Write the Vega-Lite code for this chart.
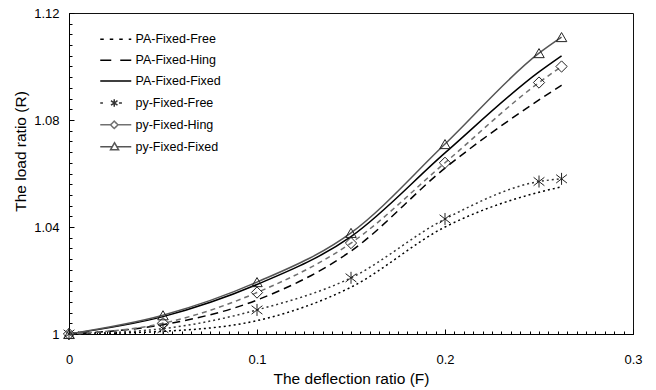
{
  "$schema": "https://vega.github.io/schema/vega-lite/v6.json",
  "width": 564,
  "height": 321,
  "autosize": {"type": "none"},
  "padding": {"left": 69, "top": 13, "right": 23, "bottom": 56},
  "background": "white",
  "config": {
    "font": "Liberation Sans",
    "view": {"stroke": "#111", "strokeWidth": 1},
    "axis": {"grid": false, "domainColor": "#000", "tickColor": "#000", "labelColor": "#000", "titleColor": "#000", "labelFont": "Liberation Sans", "titleFont": "Liberation Sans", "titleFontWeight": "normal"}
  },
  "data": {
    "values": [
      {"series": "PA-Fixed-Free", "F": 0, "R": 1},
      {"series": "PA-Fixed-Free", "F": 0.05, "R": 1.001},
      {"series": "PA-Fixed-Free", "F": 0.1, "R": 1.005},
      {"series": "PA-Fixed-Free", "F": 0.15, "R": 1.0175},
      {"series": "PA-Fixed-Free", "F": 0.2, "R": 1.04},
      {"series": "PA-Fixed-Free", "F": 0.25, "R": 1.053},
      {"series": "PA-Fixed-Free", "F": 0.262, "R": 1.055},
      {"series": "PA-Fixed-Hing", "F": 0, "R": 1},
      {"series": "PA-Fixed-Hing", "F": 0.05, "R": 1.0035},
      {"series": "PA-Fixed-Hing", "F": 0.1, "R": 1.0127},
      {"series": "PA-Fixed-Hing", "F": 0.15, "R": 1.031},
      {"series": "PA-Fixed-Hing", "F": 0.2, "R": 1.062},
      {"series": "PA-Fixed-Hing", "F": 0.25, "R": 1.0875},
      {"series": "PA-Fixed-Hing", "F": 0.262, "R": 1.093},
      {"series": "PA-Fixed-Fixed", "F": 0, "R": 1},
      {"series": "PA-Fixed-Fixed", "F": 0.05, "R": 1.0065},
      {"series": "PA-Fixed-Fixed", "F": 0.1, "R": 1.0185},
      {"series": "PA-Fixed-Fixed", "F": 0.15, "R": 1.0364},
      {"series": "PA-Fixed-Fixed", "F": 0.2, "R": 1.0677},
      {"series": "PA-Fixed-Fixed", "F": 0.25, "R": 1.098},
      {"series": "PA-Fixed-Fixed", "F": 0.262, "R": 1.104},
      {"series": "py-Fixed-Free", "F": 0, "R": 1},
      {"series": "py-Fixed-Free", "F": 0.05, "R": 1.002},
      {"series": "py-Fixed-Free", "F": 0.1, "R": 1.009},
      {"series": "py-Fixed-Free", "F": 0.15, "R": 1.021},
      {"series": "py-Fixed-Free", "F": 0.2, "R": 1.043},
      {"series": "py-Fixed-Free", "F": 0.25, "R": 1.057},
      {"series": "py-Fixed-Free", "F": 0.262, "R": 1.058},
      {"series": "py-Fixed-Hing", "F": 0, "R": 1},
      {"series": "py-Fixed-Hing", "F": 0.05, "R": 1.004},
      {"series": "py-Fixed-Hing", "F": 0.1, "R": 1.0155},
      {"series": "py-Fixed-Hing", "F": 0.15, "R": 1.034},
      {"series": "py-Fixed-Hing", "F": 0.2, "R": 1.064},
      {"series": "py-Fixed-Hing", "F": 0.25, "R": 1.094},
      {"series": "py-Fixed-Hing", "F": 0.262, "R": 1.1},
      {"series": "py-Fixed-Fixed", "F": 0, "R": 1},
      {"series": "py-Fixed-Fixed", "F": 0.05, "R": 1.007},
      {"series": "py-Fixed-Fixed", "F": 0.1, "R": 1.0194},
      {"series": "py-Fixed-Fixed", "F": 0.15, "R": 1.0378},
      {"series": "py-Fixed-Fixed", "F": 0.2, "R": 1.071},
      {"series": "py-Fixed-Fixed", "F": 0.25, "R": 1.105},
      {"series": "py-Fixed-Fixed", "F": 0.262, "R": 1.111}
    ]
  },
  "layer": [
    {
      "transform": [{"filter": "datum.series === 'PA-Fixed-Free' || datum.series === 'py-Fixed-Free'"}],
      "mark": {"type": "line", "interpolate": "monotone", "strokeWidth": 1.5, "strokeDash": [2, 3]},
      "encoding": {
        "x": {
          "field": "F", "type": "quantitative",
          "scale": {"domain": [0, 0.3], "nice": false, "zero": false},
          "axis": {"orient": "bottom", "values": [0, 0.1, 0.2, 0.3], "format": "~g", "tickSize": -5, "labelPadding": 24, "labelFontSize": 13, "labelFlush": false, "labelOverlap": false, "title": "The deflection ratio (F)", "titleFontSize": 15.5, "titleY": 44, "titleBaseline": "middle"}
        },
        "y": {
          "field": "R", "type": "quantitative",
          "scale": {"domain": [1, 1.12], "nice": false, "zero": false},
          "axis": {"orient": "left", "values": [1, 1.04, 1.08, 1.12], "format": "~g", "tickSize": -5, "labelPadding": 15, "labelFontSize": 13, "labelFlush": false, "labelOverlap": false, "title": "The load ratio (R)", "titleFontSize": 15.5, "titleX": -49, "titleY": 138, "titleBaseline": "middle", "titleAngle": -90}
        },
        "color": {
          "field": "series", "type": "nominal",
          "scale": {"domain": ["PA-Fixed-Free", "PA-Fixed-Hing", "PA-Fixed-Fixed", "py-Fixed-Free", "py-Fixed-Hing", "py-Fixed-Fixed"], "range": ["#000000", "#000000", "#000000", "#333333", "#707070", "#555555"]},
          "legend": {
            "orient": "none", "legendX": 40.5, "legendY": 20, "title": null, "padding": 0,
            "labelFontSize": 12.5, "labelColor": "#000", "labelFont": "Liberation Sans",
            "symbolSize": 100, "symbolStrokeWidth": 1.5, "symbolType": "stroke", "labelOffset": 13.5, "rowPadding": 7.9,
            "encode": {
              "symbols": {
                "update": {
                  "shape": {"signal": "datum.value === 'py-Fixed-Free' ? 'M-3.1,0H-2.56M0.64,0H1.24M-0.3,-0.74V0.74M-0.95,-0.45L0.35,0.45M-0.95,0.45L0.35,-0.45' : datum.value === 'py-Fixed-Hing' ? 'M-3.1,0H-1.04M0.44,0H3.1M-1.04,0L-0.3,-0.74L0.44,0L-0.3,0.74Z' : datum.value === 'py-Fixed-Fixed' ? 'M-3.1,0H-0.72M0.24,0H3.1M-0.24,-0.8L0.56,0.6L-1.04,0.6Z' : 'M-3.1,0H3.1'"},
                  "strokeDash": {"signal": "datum.value === 'PA-Fixed-Free' ? [3.5, 6] : datum.value === 'PA-Fixed-Hing' ? [11, 9] : [1, 0]"},
                  "stroke": {"value": "#111111"},
                  "fill": {"value": "transparent"}
                }
              }
            }
          }
        }
      }
    },
    {
      "transform": [{"filter": "datum.series === 'PA-Fixed-Hing'"}],
      "mark": {"type": "line", "interpolate": "monotone", "strokeWidth": 1.5, "strokeDash": [8, 5]},
      "encoding": {
        "x": {"field": "F", "type": "quantitative", "axis": null},
        "y": {"field": "R", "type": "quantitative", "axis": null},
        "color": {"field": "series", "type": "nominal"}
      }
    },
    {
      "transform": [{"filter": "datum.series === 'PA-Fixed-Fixed' || datum.series === 'py-Fixed-Fixed'"}],
      "mark": {"type": "line", "interpolate": "monotone", "strokeWidth": 1.5},
      "encoding": {
        "x": {"field": "F", "type": "quantitative", "axis": null},
        "y": {"field": "R", "type": "quantitative", "axis": null},
        "color": {"field": "series", "type": "nominal"}
      }
    },
    {
      "transform": [{"filter": "datum.series === 'py-Fixed-Hing'"}],
      "mark": {"type": "line", "interpolate": "monotone", "strokeWidth": 1.5, "strokeDash": [5, 4]},
      "encoding": {
        "x": {"field": "F", "type": "quantitative", "axis": null},
        "y": {"field": "R", "type": "quantitative", "axis": null},
        "color": {"field": "series", "type": "nominal"}
      }
    },
    {
      "transform": [{"filter": "indexof(datum.series, 'py') === 0"}],
      "mark": {"type": "point", "filled": false, "strokeWidth": 1, "opacity": 1, "color": "#222"},
      "encoding": {
        "x": {
          "field": "F", "type": "quantitative",
          "axis": {"orient": "bottom", "values": [0,0.005,0.01,0.015,0.02,0.025,0.03,0.035,0.04,0.045,0.05,0.055,0.06,0.065,0.07,0.075,0.08,0.085,0.09,0.095,0.1,0.105,0.11,0.115,0.12,0.125,0.13,0.135,0.14,0.145,0.15,0.155,0.16,0.165,0.17,0.175,0.18,0.185,0.19,0.195,0.2,0.205,0.21,0.215,0.22,0.225,0.23,0.235,0.24,0.245,0.25,0.255,0.26,0.265,0.27,0.275,0.28,0.285,0.29,0.295,0.3], "tickSize": -3, "labels": false, "domain": false, "title": null}
        },
        "y": {
          "field": "R", "type": "quantitative",
          "axis": {"orient": "left", "values": [1,1.004,1.008,1.012,1.016,1.02,1.024,1.028,1.032,1.036,1.04,1.044,1.048,1.052,1.056,1.06,1.064,1.068,1.072,1.076,1.08,1.084,1.088,1.092,1.096,1.1,1.104,1.108,1.112,1.116,1.12], "tickSize": -3, "labels": false, "domain": false, "title": null}
        },
        "shape": {
          "field": "series", "type": "nominal",
          "scale": {"domain": ["py-Fixed-Free", "py-Fixed-Hing", "py-Fixed-Fixed"], "range": ["M0,-1V1M-0.9,-0.7L0.9,0.7M-0.9,0.7L0.9,-0.7", "diamond", "triangle-up"]},
          "legend": null
        },
        "size": {
          "field": "series", "type": "nominal",
          "scale": {"domain": ["py-Fixed-Free", "py-Fixed-Hing", "py-Fixed-Fixed"], "range": [144, 110, 150]},
          "legend": null
        }
      }
    }
  ],
  "resolve": {"axis": {"x": "independent", "y": "independent"}}
}
